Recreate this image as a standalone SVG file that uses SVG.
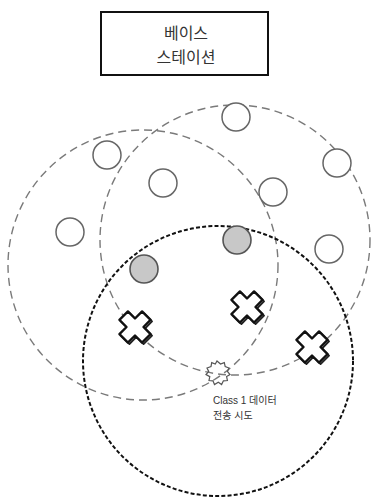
<svg xmlns="http://www.w3.org/2000/svg" width="371" height="497" viewBox="0 0 371 497">
<style>
.range{fill:none;stroke:#7a7a7a;stroke-width:1.4;stroke-dasharray:8 5}
.main{fill:none;stroke:#111;stroke-width:2;stroke-dasharray:4 2.2}
.node{fill:#fff;stroke:#666;stroke-width:1.5}
.busy{fill:#c8c8c8;stroke:#555;stroke-width:1.6}
.xm{fill:#fff;stroke:#111;stroke-width:2.4;stroke-linejoin:round}
.xs{fill:none;stroke:#222;stroke-width:1.8;stroke-linejoin:round}
.lbl{font-family:"Liberation Sans","Noto Sans CJK KR",sans-serif;fill:#333}
</style>
<defs>
<polygon id="cross" points="-6,-16 6,-16 6,-6 16,-6 16,6 6,6 6,16 -6,16 -6,6 -16,6 -16,-6 -6,-6" transform="rotate(45)"/>
</defs>
<rect width="371" height="497" fill="#fff"/>
<g id="base-station">
<rect x="101" y="12" width="167" height="63" fill="#fff" stroke="#111" stroke-width="2"/>
<text class="lbl" x="186" y="39" font-size="16" text-anchor="middle" fill="#333">베이스</text>
<text class="lbl" x="186" y="63" font-size="16" text-anchor="middle" fill="#333">스테이션</text>
</g>
<g id="connectors">
<circle id="range-a" class="range" cx="143" cy="265" r="135"/>
<circle id="range-b" class="range" cx="235" cy="240" r="135"/>
<circle id="range-c" class="main" cx="218" cy="361" r="135"/>
</g>
<g id="n1"><circle class="node" cx="236" cy="117" r="14"/></g>
<g id="n2"><circle class="node" cx="107" cy="155" r="14"/></g>
<g id="n3"><circle class="node" cx="337" cy="163" r="14"/></g>
<g id="n4"><circle class="node" cx="163" cy="183" r="14"/></g>
<g id="n5"><circle class="node" cx="273" cy="192" r="14"/></g>
<g id="n6"><circle class="node" cx="70" cy="232" r="14"/></g>
<g id="n7"><circle class="node" cx="329" cy="249" r="14"/></g>
<g id="g1"><circle class="busy" cx="237" cy="240" r="14"/></g>
<g id="g2"><circle class="busy" cx="144" cy="269" r="14"/></g>
<g id="x1" transform="translate(135,327)"><use href="#cross" class="xs" transform="translate(1.5,1.5)"/><use href="#cross" class="xm"/></g>
<g id="x2" transform="translate(247,307)"><use href="#cross" class="xs" transform="translate(1.5,1.5)"/><use href="#cross" class="xm"/></g>
<g id="x3" transform="translate(312,347)"><use href="#cross" class="xs" transform="translate(1.5,1.5)"/><use href="#cross" class="xm"/></g>
<g id="tx">
<polygon points="217,361 220.5,364 224.3,362.6 225.2,366.6 229,368 227.4,371.5 230,374.5 226.6,376.6 227.4,380.5 223.4,380.8 221.6,384.5 218.3,382.3 214.5,384.6 213,380.8 209,380.5 209.8,376.6 206,374.5 208.7,371.5 207,368 211,366.6 211.7,362.6 215.3,364" fill="none" stroke="#555" stroke-width="1.2"/>
<text class="lbl" x="213" y="404" font-size="10" fill="#555">Class 1 데이터</text>
<text class="lbl" x="213" y="419" font-size="10" fill="#555">전송 시도</text>
</g>
</svg>
